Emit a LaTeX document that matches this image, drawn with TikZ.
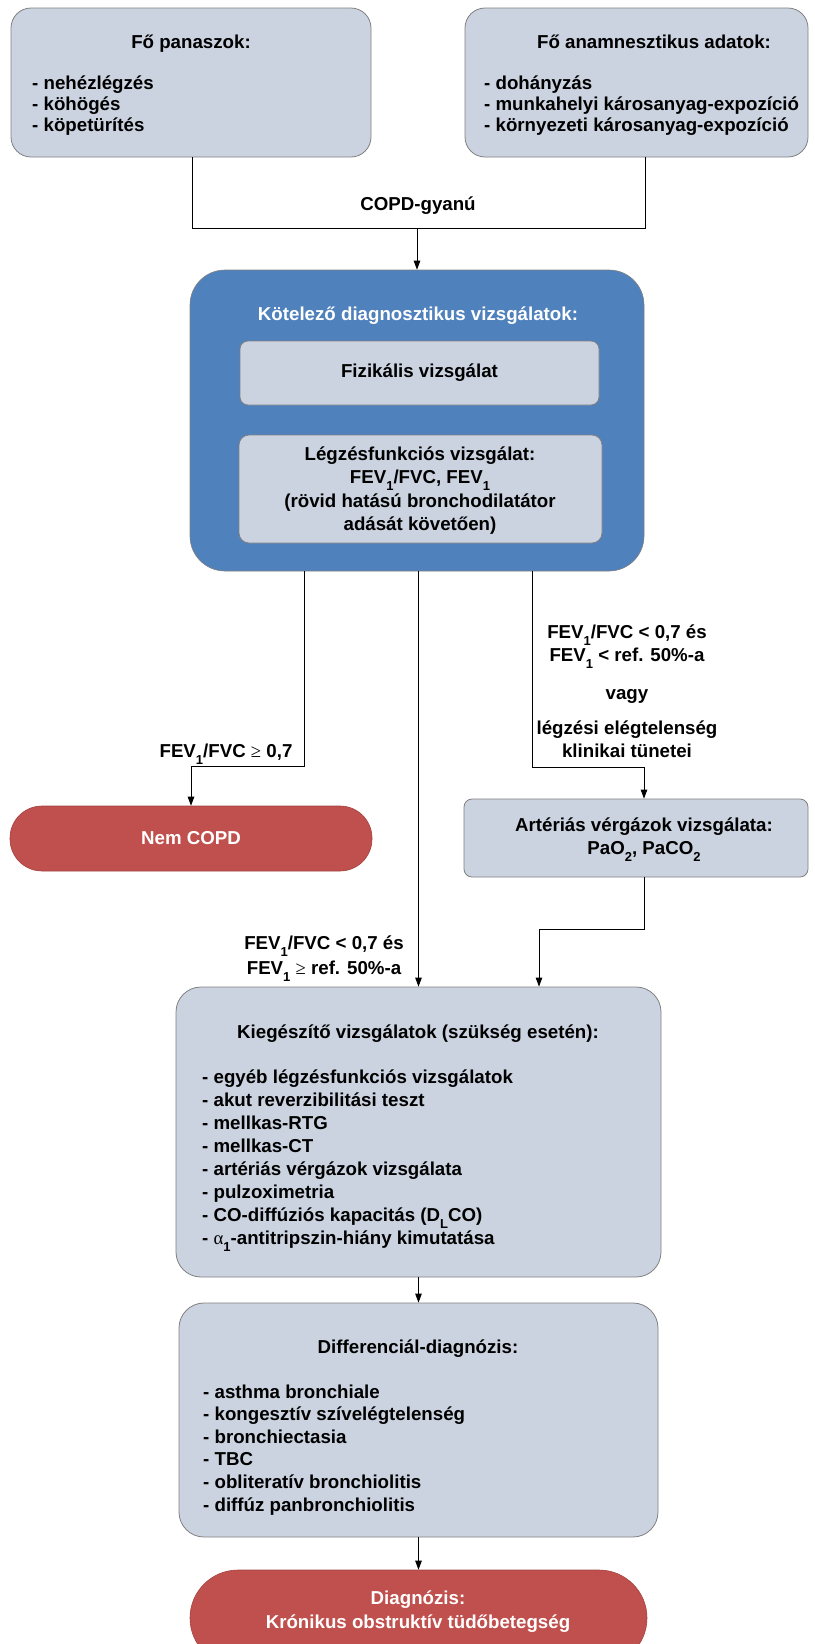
\documentclass[tikz,border=0pt]{standalone}
\usepackage{fontspec}
\setmainfont{Liberation Sans}
\newfontfamily\symfont{Liberation Serif}
\usetikzlibrary{arrows.meta}

\definecolor{boxfill}{RGB}{203,211,224}
\definecolor{boxline}{RGB}{128,128,128}
\definecolor{bluefill}{RGB}{79,129,189}
\definecolor{redfill}{RGB}{192,80,77}

% lowered small index, e.g. FEV_1
\newcommand\lo[1]{\raisebox{-0.38em}{\fontsize{13}{13}\selectfont #1}}

% multi-line texts are anchored at the baseline of their last line
\tikzset{
  txt/.style={font=\bfseries\fontsize{18.7}{23}\selectfont, inner sep=0pt},
  greybox/.style={draw=boxline, line width=0.8pt, fill=boxfill, inner sep=0pt},
  capsule/.style={draw=redfill!85!black, line width=0.6pt, fill=redfill, inner sep=0pt},
  conn/.style={draw=black, line width=0.9pt},
  arr/.style={conn, -{Triangle[length=9pt,width=6.5pt]}},
}

\begin{document}
\begin{tikzpicture}[x=1pt,y=-1pt]
\useasboundingbox (0,0) rectangle (814,1644);
\clip (0,0) rectangle (814,1644);

% ---- top boxes
\node[greybox, rounded corners=20pt, minimum width=360pt, minimum height=149pt] (panasz) at (191,82.5) {};
\node[greybox, rounded corners=20pt, minimum width=343pt, minimum height=149pt] (anamn) at (636.5,82.5) {};
\node[txt, anchor=base] (panaszT) at (191,48) {Fő panaszok:};
\node[txt, anchor=base west, align=left, font=\bfseries\fontsize{18.7}{21}\selectfont] (panaszL) at (32,131) {- nehézlégzés\\- köhögés\\- köpetürítés};
\node[txt, anchor=base] (anamnT) at (654,48) {Fő anamnesztikus adatok:};
\node[txt, anchor=base west, align=left, font=\bfseries\fontsize{18.7}{21}\selectfont] (anamnL) at (484,131) {- dohányzás\\- munkahelyi károsanyag-expozíció\\- környezeti károsanyag-expozíció};

% ---- mandatory examinations
\node[draw=boxline, line width=0.6pt, fill=bluefill, rounded corners=35pt, minimum width=454pt, minimum height=301pt, inner sep=0pt] (kot) at (417,420.5) {};
\node[txt, text=white, anchor=base] (kotT) at (418,320) {Kötelező diagnosztikus vizsgálatok:};
\node[greybox, rounded corners=8pt, minimum width=359pt, minimum height=64pt] (fiz) at (419.5,373) {};
\node[txt] (fizT) at (fiz.center) {Fizikális vizsgálat};
\node[greybox, rounded corners=10pt, minimum width=363pt, minimum height=108pt] (legz) at (420.5,489) {};
\node[txt, anchor=base, align=center, font=\bfseries\fontsize{18.7}{23.5}\selectfont] (legzT) at (420,530.5)
  {Légzésfunkciós vizsgálat:\\FEV\lo{1}/FVC, FEV\lo{1}\\(rövid hatású bronchodilatátor\\adását követően)};

% ---- outcomes
\node[capsule, rounded corners=32pt, minimum width=362pt, minimum height=65pt] (nem) at (191,838.5) {};
\node[txt, text=white] (nemT) at (nem.center) {Nem COPD};

\node[greybox, rounded corners=8pt, minimum width=344pt, minimum height=78pt] (art) at (636,838) {};
\node[txt, anchor=base, align=center] (artT) at (644,854) {Artériás vérgázok vizsgálata:\\PaO\lo{2}, PaCO\lo{2}};

\node[greybox, rounded corners=25pt, minimum width=485pt, minimum height=290pt] (kieg) at (418.5,1132) {};
\node[txt, anchor=base] (kiegT) at (418,1038) {Kiegészítő vizsgálatok (szükség esetén):};
\node[txt, anchor=base west, align=left] (kiegL) at (202,1244)
  {- egyéb légzésfunkciós vizsgálatok\\- akut reverzibilitási teszt\\- mellkas-RTG\\- mellkas-CT\\- artériás vérgázok vizsgálata\\- pulzoximetria\\- CO-diffúziós kapacitás (D\lo{L}CO)\\- {\symfont\mdseries α}\lo{1}-antitripszin-hiány kimutatása};

\node[greybox, rounded corners=25pt, minimum width=479pt, minimum height=234pt] (diff) at (418.5,1420) {};
\node[txt, anchor=base] (diffT) at (418,1353) {Differenciál-diagnózis:};
\node[txt, anchor=base west, align=left, font=\bfseries\fontsize{18.7}{22.6}\selectfont] (diffL) at (203,1511)
  {- asthma bronchiale\\- kongesztív szívelégtelenség\\- bronchiectasia\\- TBC\\- obliteratív bronchiolitis\\- diffúz panbronchiolitis};

\node[capsule, rounded corners=48pt, minimum width=457pt, minimum height=96pt] (diag) at (418.5,1618) {};
\node[txt, text=white, anchor=base, align=center, font=\bfseries\fontsize{18.7}{24}\selectfont] (diagT) at (418,1628)
  {Diagnózis:\\Krónikus obstruktív tüdőbetegség};

% ---- connectors
\coordinate (j1) at (192,228);
\coordinate (j2) at (645,228);
\draw[conn] (panasz.south -| j1) -- (j1) -- (j2) -- (anamn.south -| j2);
\draw[arr] (kot.north |- j1) -- (kot.north);
\node[txt, anchor=base] (gyanu) at (418,210) {COPD-gyanú};

\coordinate (l1) at (304,766);
\coordinate (l2) at (191,766);
\draw[arr] (kot.south -| l1) -- (l1) -- (l2) -- (nem.north);
\node[txt, anchor=base] (labL) at (226,757) {FEV\lo{1}/FVC {\symfont\mdseries ≥} 0,7};

\draw[arr] (kot.south -| kieg.north) -- (kieg.north);
\node[txt, anchor=base, align=center, font=\bfseries\fontsize{18.7}{25}\selectfont] (labM) at (324,974)
  {FEV\lo{1}/FVC < 0,7 és\\FEV\lo{1} {\symfont\mdseries ≥} ref. 50\%-a};

\coordinate (r1) at (532,767);
\coordinate (r2) at (644,767);
\draw[arr] (kot.south -| r1) -- (r1) -- (r2) -- (art.north -| r2);
\node[txt, anchor=base, align=center] (labR) at (627,757)
  {FEV\lo{1}/FVC < 0,7 és\\FEV\lo{1} < ref. 50\%-a\\[15pt]vagy\\[12pt]légzési elégtelenség\\klinikai tünetei};

\coordinate (a1) at (644,929);
\coordinate (a2) at (539,929);
\draw[arr] (art.south -| a1) -- (a1) -- (a2) -- (kieg.north -| a2);

\draw[arr] (kieg.south) -- (diff.north);
\draw[arr] (diff.south) -- (diag.north);
\end{tikzpicture}
\end{document}
